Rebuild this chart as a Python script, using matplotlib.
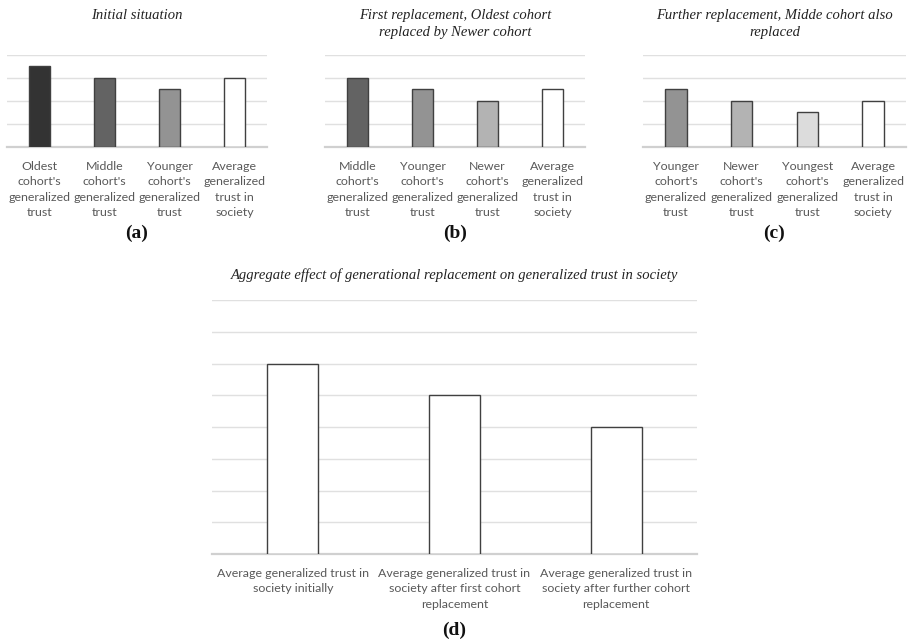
import matplotlib
matplotlib.use("Agg")
import matplotlib.pyplot as plt
import numpy as np

# ---- data ----
labels_a = ["Oldest\ncohort's\ngeneralized\ntrust", "Middle\ncohort's\ngeneralized\ntrust",
            "Younger\ncohort's\ngeneralized\ntrust", "Average\ngeneralized\ntrust in\nsociety"]
values_a = [3.5, 3.0, 2.5, 3.0]
colors_a = ["#333333", "#636363", "#939393", "#ffffff"]

labels_b = ["Middle\ncohort's\ngeneralized\ntrust", "Younger\ncohort's\ngeneralized\ntrust",
            "Newer\ncohort's\ngeneralized\ntrust", "Average\ngeneralized\ntrust in\nsociety"]
values_b = [3.0, 2.5, 2.0, 2.5]
colors_b = ["#636363", "#939393", "#b3b3b3", "#ffffff"]

labels_c = ["Younger\ncohort's\ngeneralized\ntrust", "Newer\ncohort's\ngeneralized\ntrust",
            "Youngest\ncohort's\ngeneralized\ntrust", "Average\ngeneralized\ntrust in\nsociety"]
values_c = [2.5, 2.0, 1.5, 2.0]
colors_c = ["#939393", "#b3b3b3", "#dcdcdc", "#ffffff"]

labels_d = ["Average generalized trust in\nsociety initially",
            "Average generalized trust in\nsociety after first cohort\nreplacement",
            "Average generalized trust in\nsociety after further cohort\nreplacement"]
values_d = [3.0, 2.5, 2.0]

titles = ["Initial situation",
          "First replacement, Oldest cohort\nreplaced by Newer cohort",
          "Further replacement, Midde cohort also\nreplaced",
          "Aggregate effect of generational replacement on generalized trust in society"]
panel_tags = ["(a)", "(b)", "(c)", "(d)"]

# ---- styling ----
W, H = 908, 643
fig = plt.figure(figsize=(W / 100, H / 100), dpi=100)
fig.patch.set_facecolor("white")

SANS = ["Lato", "DejaVu Sans"]
SERIF = ["Liberation Serif", "DejaVu Serif"]
TICK_COLOR = "#595959"
GRID_COLOR = "#e0e0e0"
BASE_COLOR = "#d0d0d0"
EDGE = "#404040"
TICK_FS = 8.9
TITLE_FS = 10.5
TAG_FS = 14


def px_axes(x0, y0, x1, y1):
    return fig.add_axes([x0 / W, 1 - y1 / H, (x1 - x0) / W, (y1 - y0) / H])


def style(ax, labels, ymax, step, pad):
    ax.set_xlim(-0.5, len(labels) - 0.5)
    ax.set_ylim(0, ymax)
    ax.set_yticks(np.arange(0, ymax + step / 2, step))
    ax.yaxis.grid(True, color=GRID_COLOR, lw=1.0)
    ax.set_axisbelow(True)
    ax.tick_params(axis="y", left=False, labelleft=False)
    ax.tick_params(axis="x", length=0, pad=pad, colors=TICK_COLOR)
    ax.set_xticks(range(len(labels)))
    ax.set_xticklabels(labels, fontsize=TICK_FS, family=SANS, color=TICK_COLOR,
                       linespacing=1.5)
    for s in ["left", "right", "top"]:
        ax.spines[s].set_visible(False)
    ax.spines["bottom"].set_color(BASE_COLOR)
    ax.spines["bottom"].set_linewidth(1.6)
    ax.set_facecolor("none")


small = [
    (7, 267, labels_a, values_a, colors_a),
    (325, 585, labels_b, values_b, colors_b),
    (643, 906, labels_c, values_c, colors_c),
]
for i, (x0, x1, labs, vals, cols) in enumerate(small):
    ax = px_axes(x0, 55, x1, 147)
    style(ax, labs, 4, 1, 10)
    ax.bar(range(len(vals)), vals, width=0.33, color=cols, edgecolor=EDGE, lw=1.0, zorder=3)
    cx = (x0 + x1) / 2 / W
    fig.text(cx, 1 - 9 / H, titles[i], ha="center", va="top", fontsize=TITLE_FS,
             family=SERIF, style="italic", color="#222222", linespacing=1.4)
    fig.text(cx, 1 - 233 / H, panel_tags[i], ha="center", va="center", fontsize=TAG_FS,
             family=SERIF, weight="bold", color="#111111")

axd = px_axes(212, 300, 697, 554)
style(axd, labels_d, 4, 0.5, 10)
axd.bar(range(len(values_d)), values_d, width=0.315, color="white", edgecolor=EDGE, lw=1.0, zorder=3)
fig.text(454 / W, 1 - 275 / H, titles[3], ha="center", va="center", fontsize=TITLE_FS,
         family=SERIF, style="italic", color="#222222")
fig.text(454 / W, 1 - 630 / H, panel_tags[3], ha="center", va="center", fontsize=TAG_FS,
         family=SERIF, weight="bold", color="#111111")

fig.savefig("out.png", dpi=100, facecolor="white")
